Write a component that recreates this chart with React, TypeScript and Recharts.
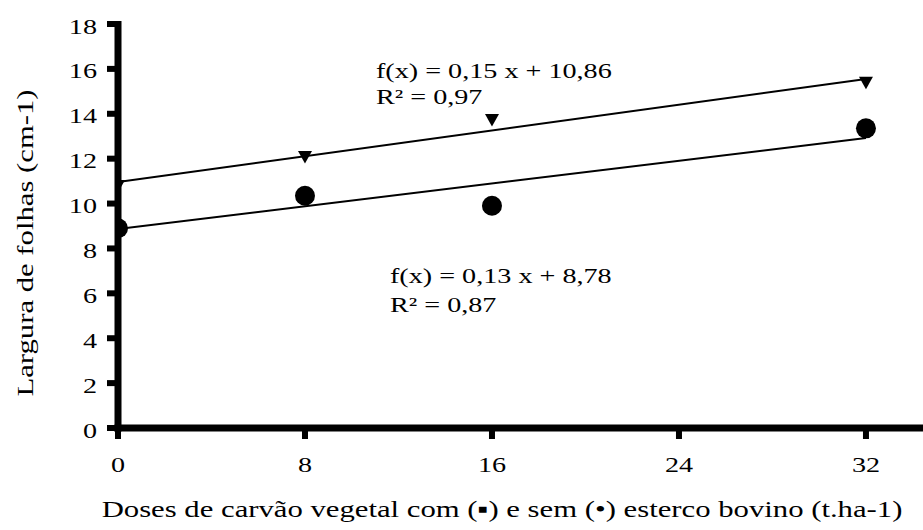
import React from 'react';
import { ComposedChart, Scatter, Line, XAxis, YAxis } from 'recharts';

const doses = [0, 8, 16, 32];
const comEsterco = [10.8, 12.1, 13.75, 15.4];
const semEsterco = [8.9, 10.35, 9.9, 13.35];
const trendX = [0, 32];
const trendCom = [10.96, 15.55];
const trendSem = [8.87, 12.92];
const xTicks = [0, 8, 16, 24, 32];
const yTicks = [0, 2, 4, 6, 8, 10, 12, 14, 16, 18];

const comData = doses.map((x, i) => ({ x, y: comEsterco[i] }));
const semData = doses.map((x, i) => ({ x, y: semEsterco[i] }));
const trendComData = trendX.map((x, i) => ({ x, y: trendCom[i] }));
const trendSemData = trendX.map((x, i) => ({ x, y: trendSem[i] }));

const W = 923;
const H = 530;
const TOP = 24;
const LEFT = 118;
const XAXIS_H = 102;
const BOTTOM = H - XAXIS_H;
const AXW = 7;
const TKW = 6;

const FONT = '"Liberation Serif", "Times New Roman", serif';
const SX = 1.28;

const YTick = (props: any) => {
  const { y, payload } = props;
  return (
    <g>
      <rect x={LEFT - 11} y={y - TKW / 2} width={11} height={TKW} fill="#000" />
      <g transform={`translate(97, ${y})`}>
        <text transform={`scale(${SX},1)`} textAnchor="end" dy={9.5} fontSize={22} fontFamily={FONT} fill="#000" stroke="none">
          {payload.value}
        </text>
      </g>
    </g>
  );
};

const XTick = (props: any) => {
  const { x, payload } = props;
  return (
    <g>
      <rect x={x - TKW / 2} y={BOTTOM} width={TKW} height={11} fill="#000" />
      <g transform={`translate(${x}, 472)`}>
        <text transform={`scale(${SX},1)`} textAnchor="middle" fontSize={22} fontFamily={FONT} fill="#000" stroke="none">
          {payload.value}
        </text>
      </g>
    </g>
  );
};

const Tri = (props: any) => {
  const { cx, cy } = props;
  return <path d={`M${cx - 7},${cy - 5.5} L${cx + 7},${cy - 5.5} L${cx},${cy + 7} Z`} fill="#000" />;
};

const Dot = (props: any) => {
  const { cx, cy } = props;
  return <circle cx={cx} cy={cy} r={10} fill="#000" />;
};

const STxt = ({ x, y, size, anchor = 'start', rotate = 0, children }: any) => (
  <g transform={`translate(${x}, ${y}) rotate(${rotate})`}>
    <text transform={`scale(${SX},1)`} textAnchor={anchor} fontSize={size} fontFamily={FONT} fill="#000">
      {children}
    </text>
  </g>
);

export default function App() {
  return (
    <div style={{ position: 'absolute', left: 0, top: 0, width: W, height: H, background: '#fff' }}>
      <ComposedChart width={W} height={H} margin={{ top: TOP, right: 0, bottom: 0, left: 0 }}>
        <XAxis
          dataKey="x"
          type="number"
          domain={[0, 34.44]}
          ticks={xTicks}
          height={XAXIS_H}
          axisLine={false}
          tickLine={false}
          tick={<XTick />}
          allowDataOverflow
        />
        <YAxis
          type="number"
          domain={[0, 18]}
          ticks={yTicks}
          width={LEFT}
          axisLine={false}
          tickLine={false}
          tick={<YTick />}
          allowDataOverflow
        />
        <Scatter data={comData} dataKey="y" shape={<Tri />} isAnimationActive={false} />
        <Scatter data={semData} dataKey="y" shape={<Dot />} isAnimationActive={false} />
        <Line data={trendComData} dataKey="y" dot={false} stroke="#000" strokeWidth={2} isAnimationActive={false} />
        <Line data={trendSemData} dataKey="y" dot={false} stroke="#000" strokeWidth={2} isAnimationActive={false} />
      </ComposedChart>
      <svg width={W} height={H} style={{ position: 'absolute', left: 0, top: 0, pointerEvents: 'none' }}>
        <rect x={LEFT - AXW / 2} y={TOP - TKW / 2} width={AXW} height={BOTTOM - TOP + TKW / 2 + AXW / 2} fill="#000" />
        <rect x={LEFT - AXW / 2} y={BOTTOM - AXW / 2} width={W - LEFT + AXW / 2} height={AXW} fill="#000" />
        <STxt x={376} y={78} size={22}>f(x) = 0,15 x + 10,86</STxt>
        <STxt x={376} y={104} size={22}>R² = 0,97</STxt>
        <STxt x={390} y={283} size={22}>f(x) = 0,13 x + 8,78</STxt>
        <STxt x={390} y={312} size={22}>R² = 0,87</STxt>
        <STxt x={33} y={243} size={24} anchor="middle" rotate={-90}>Largura de folhas (cm-1)</STxt>
        <STxt x={502} y={517} size={24} anchor="middle">Doses de carvão vegetal com (▪) e sem (•) esterco bovino (t.ha-1)</STxt>
      </svg>
    </div>
  );
}
